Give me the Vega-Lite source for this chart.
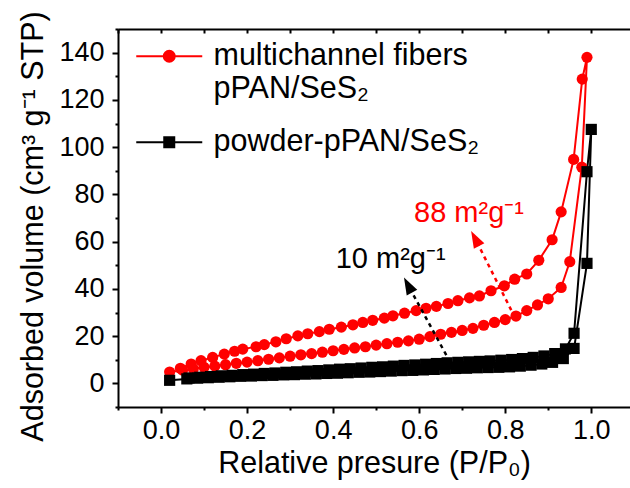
{
  "$schema": "https://vega.github.io/schema/vega-lite/v6.json",
  "width": 512,
  "height": 378,
  "autosize": "none",
  "padding": {"left": 118, "top": 29, "right": 0, "bottom": 81},
  "background": "white",
  "config": {
    "view": {"stroke": null},
    "font": "Liberation Sans",
    "axis": {
      "domainColor": "black", "domainWidth": 2, "tickColor": "black", "tickWidth": 2,
      "labelFont": "Liberation Sans", "labelFontSize": 27, "labelColor": "black",
      "titleFont": "Liberation Sans", "titleFontSize": 30.5, "titleFontWeight": "normal", "titleColor": "black",
      "grid": false, "labelOverlap": false, "labelFlush": false
    }
  },
  "datasets": {
    "iso": [
      {"sample":"fibers","order":0,"pressure":0.02,"volume":4.8},
      {"sample":"fibers","order":1,"pressure":0.05,"volume":5.6},
      {"sample":"fibers","order":2,"pressure":0.075,"volume":6.2},
      {"sample":"fibers","order":3,"pressure":0.10,"volume":6.8},
      {"sample":"fibers","order":4,"pressure":0.125,"volume":7.3},
      {"sample":"fibers","order":5,"pressure":0.15,"volume":7.9},
      {"sample":"fibers","order":6,"pressure":0.175,"volume":8.5},
      {"sample":"fibers","order":7,"pressure":0.20,"volume":9.0},
      {"sample":"fibers","order":8,"pressure":0.225,"volume":9.6},
      {"sample":"fibers","order":9,"pressure":0.25,"volume":10.2},
      {"sample":"fibers","order":10,"pressure":0.275,"volume":10.8},
      {"sample":"fibers","order":11,"pressure":0.30,"volume":11.5},
      {"sample":"fibers","order":12,"pressure":0.325,"volume":12.1},
      {"sample":"fibers","order":13,"pressure":0.35,"volume":12.6},
      {"sample":"fibers","order":14,"pressure":0.375,"volume":13.2},
      {"sample":"fibers","order":15,"pressure":0.40,"volume":13.8},
      {"sample":"fibers","order":16,"pressure":0.425,"volume":14.4},
      {"sample":"fibers","order":17,"pressure":0.45,"volume":15.0},
      {"sample":"fibers","order":18,"pressure":0.475,"volume":15.5},
      {"sample":"fibers","order":19,"pressure":0.50,"volume":16.2},
      {"sample":"fibers","order":20,"pressure":0.525,"volume":16.8},
      {"sample":"fibers","order":21,"pressure":0.55,"volume":17.4},
      {"sample":"fibers","order":22,"pressure":0.575,"volume":18.0},
      {"sample":"fibers","order":23,"pressure":0.60,"volume":18.7},
      {"sample":"fibers","order":24,"pressure":0.625,"volume":19.8},
      {"sample":"fibers","order":25,"pressure":0.65,"volume":20.8},
      {"sample":"fibers","order":26,"pressure":0.675,"volume":21.6},
      {"sample":"fibers","order":27,"pressure":0.70,"volume":22.4},
      {"sample":"fibers","order":28,"pressure":0.725,"volume":23.3},
      {"sample":"fibers","order":29,"pressure":0.75,"volume":24.6},
      {"sample":"fibers","order":30,"pressure":0.775,"volume":25.8},
      {"sample":"fibers","order":31,"pressure":0.80,"volume":27.0},
      {"sample":"fibers","order":32,"pressure":0.825,"volume":28.5},
      {"sample":"fibers","order":33,"pressure":0.85,"volume":30.8},
      {"sample":"fibers","order":34,"pressure":0.875,"volume":33.2},
      {"sample":"fibers","order":35,"pressure":0.90,"volume":35.8},
      {"sample":"fibers","order":36,"pressure":0.93,"volume":40.6},
      {"sample":"fibers","order":37,"pressure":0.95,"volume":51.5},
      {"sample":"fibers","order":38,"pressure":0.978,"volume":91.5},
      {"sample":"fibers","order":39,"pressure":0.99,"volume":138.0},
      {"sample":"fibers","order":40,"pressure":0.979,"volume":128.8},
      {"sample":"fibers","order":41,"pressure":0.959,"volume":94.8},
      {"sample":"fibers","order":42,"pressure":0.93,"volume":72.6},
      {"sample":"fibers","order":43,"pressure":0.909,"volume":60.8},
      {"sample":"fibers","order":44,"pressure":0.878,"volume":52.1},
      {"sample":"fibers","order":45,"pressure":0.85,"volume":46.3},
      {"sample":"fibers","order":46,"pressure":0.822,"volume":44.1},
      {"sample":"fibers","order":47,"pressure":0.798,"volume":41.3},
      {"sample":"fibers","order":48,"pressure":0.767,"volume":39.2},
      {"sample":"fibers","order":49,"pressure":0.74,"volume":37.0},
      {"sample":"fibers","order":50,"pressure":0.717,"volume":36.2},
      {"sample":"fibers","order":51,"pressure":0.69,"volume":35.0},
      {"sample":"fibers","order":52,"pressure":0.667,"volume":33.8},
      {"sample":"fibers","order":53,"pressure":0.64,"volume":32.6},
      {"sample":"fibers","order":54,"pressure":0.616,"volume":31.8},
      {"sample":"fibers","order":55,"pressure":0.593,"volume":30.8},
      {"sample":"fibers","order":56,"pressure":0.566,"volume":29.7},
      {"sample":"fibers","order":57,"pressure":0.539,"volume":28.6},
      {"sample":"fibers","order":58,"pressure":0.519,"volume":27.6},
      {"sample":"fibers","order":59,"pressure":0.492,"volume":26.7},
      {"sample":"fibers","order":60,"pressure":0.469,"volume":25.8},
      {"sample":"fibers","order":61,"pressure":0.446,"volume":24.8},
      {"sample":"fibers","order":62,"pressure":0.419,"volume":23.8},
      {"sample":"fibers","order":63,"pressure":0.391,"volume":22.9},
      {"sample":"fibers","order":64,"pressure":0.368,"volume":21.9},
      {"sample":"fibers","order":65,"pressure":0.341,"volume":21.0},
      {"sample":"fibers","order":66,"pressure":0.318,"volume":20.1},
      {"sample":"fibers","order":67,"pressure":0.291,"volume":18.9},
      {"sample":"fibers","order":68,"pressure":0.267,"volume":17.6},
      {"sample":"fibers","order":69,"pressure":0.24,"volume":16.4},
      {"sample":"fibers","order":70,"pressure":0.221,"volume":15.5},
      {"sample":"fibers","order":71,"pressure":0.19,"volume":14.5},
      {"sample":"fibers","order":72,"pressure":0.171,"volume":13.6},
      {"sample":"fibers","order":73,"pressure":0.147,"volume":12.4},
      {"sample":"fibers","order":74,"pressure":0.12,"volume":11.0},
      {"sample":"fibers","order":75,"pressure":0.093,"volume":9.6},
      {"sample":"fibers","order":76,"pressure":0.07,"volume":8.2},
      {"sample":"fibers","order":77,"pressure":0.045,"volume":6.4},
      {"sample":"powder","order":0,"pressure":0.02,"volume":1.3},
      {"sample":"powder","order":1,"pressure":0.06,"volume":1.9},
      {"sample":"powder","order":2,"pressure":0.085,"volume":2.2},
      {"sample":"powder","order":3,"pressure":0.11,"volume":2.4},
      {"sample":"powder","order":4,"pressure":0.135,"volume":2.6},
      {"sample":"powder","order":5,"pressure":0.16,"volume":2.8},
      {"sample":"powder","order":6,"pressure":0.185,"volume":3.0},
      {"sample":"powder","order":7,"pressure":0.21,"volume":3.1},
      {"sample":"powder","order":8,"pressure":0.235,"volume":3.3},
      {"sample":"powder","order":9,"pressure":0.26,"volume":3.4},
      {"sample":"powder","order":10,"pressure":0.285,"volume":3.6},
      {"sample":"powder","order":11,"pressure":0.31,"volume":3.7},
      {"sample":"powder","order":12,"pressure":0.335,"volume":3.9},
      {"sample":"powder","order":13,"pressure":0.36,"volume":4.0},
      {"sample":"powder","order":14,"pressure":0.385,"volume":4.2},
      {"sample":"powder","order":15,"pressure":0.41,"volume":4.3},
      {"sample":"powder","order":16,"pressure":0.435,"volume":4.5},
      {"sample":"powder","order":17,"pressure":0.46,"volume":4.7},
      {"sample":"powder","order":18,"pressure":0.485,"volume":4.8},
      {"sample":"powder","order":19,"pressure":0.51,"volume":5.0},
      {"sample":"powder","order":20,"pressure":0.535,"volume":5.2},
      {"sample":"powder","order":21,"pressure":0.56,"volume":5.4},
      {"sample":"powder","order":22,"pressure":0.585,"volume":5.5},
      {"sample":"powder","order":23,"pressure":0.61,"volume":5.7},
      {"sample":"powder","order":24,"pressure":0.635,"volume":5.9},
      {"sample":"powder","order":25,"pressure":0.66,"volume":6.1},
      {"sample":"powder","order":26,"pressure":0.685,"volume":6.3},
      {"sample":"powder","order":27,"pressure":0.71,"volume":6.4},
      {"sample":"powder","order":28,"pressure":0.735,"volume":6.6},
      {"sample":"powder","order":29,"pressure":0.76,"volume":6.7},
      {"sample":"powder","order":30,"pressure":0.785,"volume":6.8},
      {"sample":"powder","order":31,"pressure":0.81,"volume":7.0},
      {"sample":"powder","order":32,"pressure":0.835,"volume":7.3},
      {"sample":"powder","order":33,"pressure":0.86,"volume":7.7},
      {"sample":"powder","order":34,"pressure":0.885,"volume":8.2},
      {"sample":"powder","order":35,"pressure":0.91,"volume":8.9},
      {"sample":"powder","order":36,"pressure":0.935,"volume":10.5},
      {"sample":"powder","order":37,"pressure":0.96,"volume":14.8},
      {"sample":"powder","order":38,"pressure":0.99,"volume":50.8},
      {"sample":"powder","order":39,"pressure":1.0,"volume":107.5},
      {"sample":"powder","order":40,"pressure":0.99,"volume":89.6},
      {"sample":"powder","order":41,"pressure":0.96,"volume":21.2},
      {"sample":"powder","order":42,"pressure":0.94,"volume":14.6},
      {"sample":"powder","order":43,"pressure":0.915,"volume":12.6},
      {"sample":"powder","order":44,"pressure":0.89,"volume":11.6},
      {"sample":"powder","order":45,"pressure":0.865,"volume":11.0},
      {"sample":"powder","order":46,"pressure":0.84,"volume":10.5},
      {"sample":"powder","order":47,"pressure":0.815,"volume":10.1},
      {"sample":"powder","order":48,"pressure":0.79,"volume":9.8},
      {"sample":"powder","order":49,"pressure":0.765,"volume":9.5},
      {"sample":"powder","order":50,"pressure":0.74,"volume":9.3},
      {"sample":"powder","order":51,"pressure":0.715,"volume":9.1},
      {"sample":"powder","order":52,"pressure":0.69,"volume":8.9},
      {"sample":"powder","order":53,"pressure":0.665,"volume":8.7},
      {"sample":"powder","order":54,"pressure":0.64,"volume":8.4},
      {"sample":"powder","order":55,"pressure":0.615,"volume":8.1},
      {"sample":"powder","order":56,"pressure":0.59,"volume":7.8},
      {"sample":"powder","order":57,"pressure":0.565,"volume":7.6},
      {"sample":"powder","order":58,"pressure":0.54,"volume":7.3},
      {"sample":"powder","order":59,"pressure":0.515,"volume":7.0},
      {"sample":"powder","order":60,"pressure":0.49,"volume":6.8},
      {"sample":"powder","order":61,"pressure":0.465,"volume":6.5},
      {"sample":"powder","order":62,"pressure":0.44,"volume":6.2},
      {"sample":"powder","order":63,"pressure":0.415,"volume":6.0},
      {"sample":"powder","order":64,"pressure":0.39,"volume":5.7},
      {"sample":"powder","order":65,"pressure":0.365,"volume":5.4},
      {"sample":"powder","order":66,"pressure":0.34,"volume":5.2},
      {"sample":"powder","order":67,"pressure":0.315,"volume":4.9},
      {"sample":"powder","order":68,"pressure":0.29,"volume":4.7},
      {"sample":"powder","order":69,"pressure":0.265,"volume":4.4},
      {"sample":"powder","order":70,"pressure":0.24,"volume":4.2},
      {"sample":"powder","order":71,"pressure":0.215,"volume":3.9},
      {"sample":"powder","order":72,"pressure":0.19,"volume":3.7},
      {"sample":"powder","order":73,"pressure":0.165,"volume":3.4},
      {"sample":"powder","order":74,"pressure":0.14,"volume":3.2},
      {"sample":"powder","order":75,"pressure":0.115,"volume":2.9},
      {"sample":"powder","order":76,"pressure":0.09,"volume":2.6},
      {"sample":"powder","order":77,"pressure":0.065,"volume":2.3}
    ],
    "notes": [
      {"sample":"fibers","label":"88 m²g⁻¹","pressure":0.588,"volume":68.2},
      {"sample":"powder","label":"10 m²g⁻¹","pressure":0.406,"volume":48.8}
    ],
    "arrows": [
      {"sample":"fibers","pressure":0.814,"volume":31.0,"pressureEnd":0.730,"volumeEnd":61.3},
      {"sample":"powder","pressure":0.663,"volume":12.0,"pressureEnd":0.574,"volumeEnd":41.6}
    ]
  },
  "layer": [
    {
      "data": {"name": "iso"},
      "mark": {"type": "line", "strokeWidth": 2},
      "encoding": {
        "x": {"field": "pressure", "type": "quantitative",
              "scale": {"domain": [-0.1, 1.09], "nice": false, "zero": false},
              "axis": {"orient": "bottom", "values": [0, 0.2, 0.4, 0.6, 0.8, 1.0], "format": ".1f",
                       "title": "Relative presure (P/P₀)", "tickSize": 6, "labelPadding": 4, "titlePadding": 5}},
        "y": {"field": "volume", "type": "quantitative",
              "scale": {"domain": [-10, 150], "nice": false, "zero": false},
              "axis": {"orient": "left", "values": [0, 20, 40, 60, 80, 100, 120, 140],
                       "title": "Adsorbed volume (cm³ g⁻¹ STP)", "tickSize": 6, "labelPadding": 8, "titlePadding": 10, "titleY": 197}},
        "color": {"field": "sample", "type": "nominal",
                  "scale": {"range": ["#ff0000", "#000000"]}, "legend": null},
        "order": {"field": "order", "type": "quantitative"}
      }
    },
    {
      "data": {"name": "iso"},
      "transform": [{"filter": "datum.sample === 'fibers'"}],
      "mark": {"type": "point", "shape": "circle", "filled": true, "size": 125, "color": "#ff0000", "opacity": 1},
      "encoding": {
        "x": {"field": "pressure", "type": "quantitative",
              "axis": {"orient": "bottom", "values": [-0.1, 0.1, 0.3, 0.5, 0.7, 0.9], "labels": false, "domain": false, "title": null, "tickSize": 3}},
        "y": {"field": "volume", "type": "quantitative",
              "axis": {"orient": "left", "values": [-10, 10, 30, 50, 70, 90, 110, 130, 150], "labels": false, "domain": false, "title": null, "tickSize": 3}}
      }
    },
    {
      "data": {"name": "iso"},
      "transform": [{"filter": "datum.sample === 'powder'"}],
      "mark": {"type": "point", "shape": "square", "filled": true, "size": 125, "color": "#000000", "opacity": 1},
      "encoding": {
        "x": {"field": "pressure", "type": "quantitative",
              "axis": {"orient": "top", "values": [-0.1, 0, 0.1, 0.2, 0.3, 0.4, 0.5, 0.6, 0.7, 0.8, 0.9, 1.0], "labels": false, "title": null, "tickSize": -4}},
        "y": {"field": "volume", "type": "quantitative", "axis": null}
      }
    },
    {
      "data": {"name": "notes"},
      "mark": {"type": "text", "align": "left", "baseline": "alphabetic", "fontSize": 29, "font": "Liberation Sans"},
      "encoding": {
        "x": {"field": "pressure", "type": "quantitative", "axis": null},
        "y": {"field": "volume", "type": "quantitative", "axis": null},
        "text": {"field": "label"},
        "color": {"field": "sample", "type": "nominal", "legend": null}
      }
    },
    {
      "data": {"name": "arrows"},
      "mark": {"type": "rule", "strokeDash": [4, 4], "strokeWidth": 2.5},
      "encoding": {
        "x": {"field": "pressure", "type": "quantitative", "axis": null},
        "y": {"field": "volume", "type": "quantitative", "axis": null},
        "x2": {"field": "pressureEnd"},
        "y2": {"field": "volumeEnd"},
        "color": {"field": "sample", "type": "nominal", "legend": null}
      }
    },
    {
      "data": {"name": "arrows"},
      "mark": {"type": "point", "shape": "M0,-1L0.7,1L-0.7,1Z", "filled": true, "size": 289, "angle": -28, "opacity": 1},
      "encoding": {
        "x": {"field": "pressureEnd", "type": "quantitative", "axis": null},
        "y": {"field": "volumeEnd", "type": "quantitative", "axis": null},
        "color": {"field": "sample", "type": "nominal", "legend": null}
      }
    },
    {
      "data": {"name": "iso"},
      "mark": {"type": "point", "filled": true, "opacity": 0},
      "encoding": {
        "x": {"field": "pressure", "type": "quantitative", "axis": null},
        "y": {"field": "volume", "type": "quantitative", "axis": null},
        "fill": {"field": "sample", "type": "nominal",
                 "scale": {"domain": ["fibers", "powder"], "range": ["#ff0000", "#000000"]},
                 "legend": {"orient": "none", "legendX": 36, "legendY": 12, "title": null, "symbolSize": 100, "symbolStrokeWidth": 2, "symbolOpacity": 1,
                            "labelFont": "Liberation Sans", "labelFontSize": 30.5, "labelColor": "black", "labelOffset": 29, "labelLimit": 600,
                            "labelLineHeight": 36, "rowPadding": 22, "padding": 0,
                            "labelExpr": "datum.label === 'fibers' ? ['multichannel fibers', 'pPAN/SeS₂'] : 'powder-pPAN/SeS₂'"}},
        "stroke": {"field": "sample", "type": "nominal",
                   "scale": {"domain": ["fibers", "powder"], "range": ["#ff0000", "#000000"]},
                   "legend": {"orient": "none", "legendX": 36, "legendY": 12, "title": null, "symbolSize": 100, "symbolStrokeWidth": 2, "symbolOpacity": 1,
                              "labelFont": "Liberation Sans", "labelFontSize": 30.5, "labelColor": "black", "labelOffset": 29, "labelLimit": 600,
                              "labelLineHeight": 36, "rowPadding": 22, "padding": 0,
                              "labelExpr": "datum.label === 'fibers' ? ['multichannel fibers', 'pPAN/SeS₂'] : 'powder-pPAN/SeS₂'"}},
        "shape": {"field": "sample", "type": "nominal",
                  "scale": {"domain": ["fibers", "powder"],
                            "range": ["M-6.6,0H6.6M1.1,0A1.1,1.1,0,1,1,-1.1,0A1.1,1.1,0,1,1,1.1,0Z", "M-6.6,0H6.6M-1,-1H1V1H-1Z"]},
                  "legend": {"orient": "none", "legendX": 36, "legendY": 12, "title": null, "symbolSize": 100, "symbolStrokeWidth": 2, "symbolOpacity": 1,
                             "labelFont": "Liberation Sans", "labelFontSize": 30.5, "labelColor": "black", "labelOffset": 29, "labelLimit": 600,
                             "labelLineHeight": 36, "rowPadding": 22, "padding": 0,
                             "labelExpr": "datum.label === 'fibers' ? ['multichannel fibers', 'pPAN/SeS₂'] : 'powder-pPAN/SeS₂'"}}
      }
    }
  ],
  "resolve": {"axis": {"x": "independent", "y": "independent"}}
}
